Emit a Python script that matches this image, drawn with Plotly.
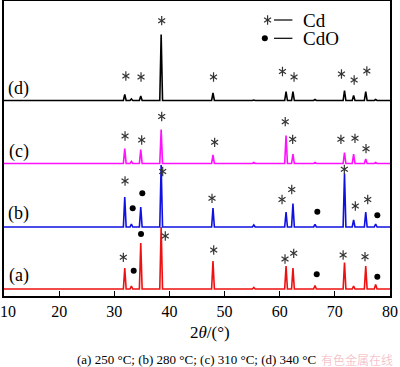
import plotly.graph_objects as go

# ---- data (2theta in degrees, relative intensity) ----
peak_pos = [31.9, 33.1, 34.8, 38.5, 47.9, 55.3, 61.15, 62.4, 66.4, 71.75, 73.4, 75.6, 77.4]

heights_a = [21, 3, 46, 62, 28, 1.5, 23, 21, 3.5, 26.5, 3, 23, 4.5]
heights_b = [30, 3, 20, 62, 19, 2, 15, 23.5, 2.5, 53.5, 7, 15, 3]
heights_c = [15, 2, 14, 34, 8.5, 1, 28, 9.5, 1, 11, 9.5, 4.5, 1]
heights_d = [6, 1.5, 4.5, 66, 7.5, 0.5, 9, 9, 1, 10, 5, 9, 1]

offsets = {"a": 7, "b": 69, "c": 132.5, "d": 195.5}
colors = {"a": "#ee1111", "b": "#1010e0", "c": "#ff10ff", "d": "#000000"}

# Cd (*) and CdO (•) phase marks
cd_x = {
    "a": [31.64, 39.25, 48.03, 60.96, 62.54, 71.5, 75.47],
    "b": [31.95, 38.78, 47.72, 60.42, 62.18, 71.72, 73.71, 75.96],
    "c": [31.95, 34.97, 38.6, 48.2, 61.0, 62.35, 71.1, 73.65, 75.65],
    "d": [32.1, 34.85, 38.6, 48.0, 60.5, 62.6, 71.2, 73.5, 75.8],
}
cd_y = {
    "a": [38.7, 60, 46, 37, 42.7, 41, 39.3],
    "b": [115, 124.5, 97.7, 96.5, 106.5, 126.7, 90, 96.5],
    "c": [160, 156, 179.5, 153.7, 174.3, 156.7, 156.7, 157.7, 147.3],
    "d": [220, 219, 275.3, 219, 224.5, 219, 222, 216, 225],
}
cdo_x = {"a": [33.52, 34.85, 66.71, 77.7], "b": [33.34, 35.08, 66.82, 77.7]}
cdo_y = {"a": [25.3, 62, 21.7, 19.3], "b": [87.7, 102.7, 84.3, 80.7]}

legend_x = [57.8, 57.3]
legend_y = [276, 257.7]
legend_names = ["Cd", "CdO"]

x_ticks = [10, 20, 30, 40, 50, 60, 70, 80]
caption = "(a) 250 °C; (b) 280 °C; (c) 310 °C; (d) 340 °C"

SERIF = "Liberation Serif, Times New Roman, serif"
STAR_COLOR = "#333333"


def build(heights, base):
    xs, ys = [10], [base]
    for p, h in zip(peak_pos, heights):
        xs += [p - 0.25, p, p + 0.25]
        ys += [base, base + h, base]
    xs.append(80)
    ys.append(base)
    return xs, ys


def add_stars(fig, xs, ys):
    # six-spoked asterisk = Y-up + Y-down open markers
    for sym in ["y-up-open", "y-down-open"]:
        fig.add_trace(go.Scatter(x=xs, y=ys, mode="markers",
                                 marker=dict(symbol=sym, size=5.8, color=STAR_COLOR,
                                             line=dict(color=STAR_COLOR, width=1.2)),
                                 hoverinfo="skip", showlegend=False))


fig = go.Figure()
for key, hts in zip("abcd", [heights_a, heights_b, heights_c, heights_d]):
    xs, ys = build(hts, offsets[key])
    fig.add_trace(go.Scatter(x=xs, y=ys, mode="lines",
                             line=dict(color=colors[key], width=1.6),
                             hoverinfo="skip", showlegend=False))

for key in "abcd":
    add_stars(fig, cd_x[key], cd_y[key])
for key in ["a", "b"]:
    fig.add_trace(go.Scatter(x=cdo_x[key], y=cdo_y[key], mode="markers",
                             marker=dict(symbol="circle", size=6, color="black"),
                             hoverinfo="skip", showlegend=False))

# pattern labels
for key, yl in zip("abcd", [21, 83, 145, 208]):
    fig.add_annotation(x=12.7, y=yl, text=f"({key})", showarrow=False, xref="x", yref="y",
                       font=dict(family=SERIF, size=18, color="black"))

# phase legend
add_stars(fig, [legend_x[0]], [legend_y[0]])
fig.add_trace(go.Scatter(x=[legend_x[1]], y=[legend_y[1]], mode="markers",
                         marker=dict(symbol="circle", size=6, color="black"),
                         hoverinfo="skip", showlegend=False))
for ly, name in zip(legend_y, legend_names):
    fig.add_shape(type="line", x0=58.96, x1=62.3, y0=ly, y1=ly, line=dict(color="black", width=1.2))
    fig.add_annotation(x=63.8, y=ly, text=name, showarrow=False, xanchor="left",
                       font=dict(family=SERIF, size=19, color="black"))

# axis title, caption and watermark (pixel positions converted to paper coords)
plot_w, plot_h = 400 - 4 - 10, 367 - 1 - 71


def px_to_paper(px, py):
    return (px - 4) / plot_w, (296 - py) / plot_h


tx, ty = px_to_paper(210, 332.7)
fig.add_annotation(x=tx, y=ty, xref="paper", yref="paper", text="2<i>θ</i>/(°)", showarrow=False,
                   xanchor="center", yanchor="middle",
                   font=dict(family=SERIF, size=17, color="black"))
cx, cy = px_to_paper(196.5, 359.5)
fig.add_annotation(x=cx, y=cy, xref="paper", yref="paper", text=caption, showarrow=False,
                   xanchor="center", yanchor="middle",
                   font=dict(family=SERIF, size=13, color="black"))
wx, wy = px_to_paper(357, 359.5)
fig.add_annotation(x=wx, y=wy, xref="paper", yref="paper", text="有色金属在线", showarrow=False,
                   xanchor="center", yanchor="middle",
                   font=dict(family="Noto Sans CJK SC", size=12, color="rgba(235,120,140,0.45)"))

tick_text = ["\u00a0\u00a010"] + [str(t) for t in x_ticks[1:]]

fig.update_layout(
    width=400, height=367,
    margin=dict(l=4, r=10, t=1, b=71, pad=0),
    paper_bgcolor="white", plot_bgcolor="white",
    xaxis=dict(range=[10, 80], tickvals=x_ticks, ticktext=tick_text,
               ticks="inside", ticklen=5, tickwidth=1, tickcolor="black",
               showline=True, linecolor="black", linewidth=1.5, mirror=True,
               showgrid=False, zeroline=False, automargin=False,
               ticklabeloverflow="allow",
               tickfont=dict(family=SERIF, size=16, color="black")),
    yaxis=dict(range=[0, 295], showticklabels=False, ticks="",
               showline=True, linecolor="black", linewidth=1.5, mirror=True,
               showgrid=False, zeroline=False, automargin=False),
)

fig.write_html("out.html", config={"displayModeBar": False},
               post_script="document.body.style.margin='0px';")
